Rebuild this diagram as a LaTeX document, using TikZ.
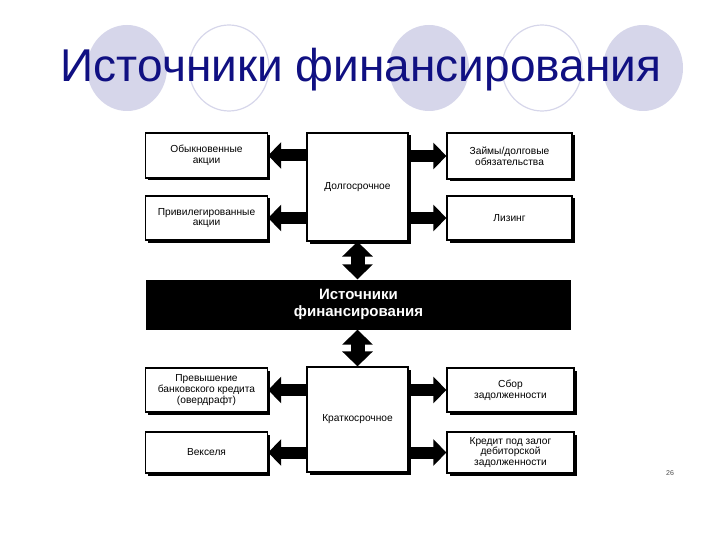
\documentclass[tikz,border=0pt]{standalone}
\usepackage{fontspec}
\setmainfont{Liberation Sans}
\usetikzlibrary{arrows.meta,shadows}
\definecolor{circ}{RGB}{214,214,234}
\definecolor{ttl}{RGB}{16,16,130}
\begin{document}
\begin{tikzpicture}[x=1pt,y=1pt,
  box/.style={draw=black,line width=1.3pt,fill=white,align=center,font=\fontsize{10.2}{10.8}\selectfont,inner sep=1pt,
    general shadow={fill=black,shadow xshift=2.5pt,shadow yshift=-2.5pt}},
  blk/.style={line width=12pt,-{Triangle[width=26pt,length=13pt]}},
  dblk/.style={line width=14pt,{Triangle[width=30pt,length=15pt]}-{Triangle[width=30pt,length=15pt]}}]
\useasboundingbox (0,0) rectangle (720,-540);
\fill[circ] (127,-68) ellipse (40 and 43);
\draw[circ,line width=1.2pt] (229,-68) ellipse (40 and 43);
\fill[circ] (429,-68) ellipse (40 and 43);
\draw[circ,line width=1.2pt] (542,-68) ellipse (40 and 43);
\fill[circ] (643,-68) ellipse (40 and 43);
\node[text=ttl,font=\fontsize{46}{50}\selectfont] (title) at (361,-70) {Источники финансирования};
% center boxes
\node[box,minimum width=101pt,minimum height=108pt] (long) at (357.5,-187) {Долгосрочное};
\node[box,minimum width=101pt,minimum height=105pt] (short) at (357.5,-419.5) {Краткосрочное};
% top boxes
\node[box,minimum width=122pt,minimum height=45pt] (ob) at (206.5,-155.5) {Обыкновенные\\акции};
\node[box,minimum width=122pt,minimum height=44pt] (pr) at (206.5,-218) {Привилегированные\\акции};
\node[box,minimum width=125pt,minimum height=46pt] (zd) at (509.5,-156) {Займы/долговые\\обязательства};
\node[box,minimum width=125pt,minimum height=44pt] (lz) at (509.5,-218) {Лизинг};
% bottom boxes
\node[box,minimum width=122pt,minimum height=44pt] (pb) at (206.5,-390) {Превышение\\банковского кредита\\(овердрафт)};
\node[box,minimum width=122pt,minimum height=41pt] (vk) at (206.5,-452.5) {Векселя};
\node[box,minimum width=127pt,minimum height=44pt] (sb) at (510.5,-390) {Сбор\\задолженности};
\node[box,minimum width=127pt,minimum height=41pt] (kr) at (510.5,-452.5) {Кредит под залог\\дебиторской\\задолженности};
% bar
\node[fill=black,text=white,minimum width=425pt,minimum height=50pt,align=center,
  font=\fontsize{15}{17}\selectfont\bfseries] (bar) at (358.5,-304.5) {Источники\\финансирования};
% arrows
\draw[blk] (long.west|-ob) -- (ob.east);
\draw[blk] (long.west|-pr) -- (pr.east);
\draw[blk] (long.east|-zd) -- (zd.west);
\draw[blk] (long.east|-lz) -- (lz.west);
\draw[blk] (short.west|-pb) -- (pb.east);
\draw[blk] (short.west|-vk) -- (vk.east);
\draw[blk] (short.east|-sb) -- (sb.west);
\draw[blk] (short.east|-kr) -- (kr.west);
\draw[dblk] (long.south) -- (long.south|-bar.north);
\draw[dblk] (bar.south-|short.north) -- (short.north);
\node[font=\fontsize{7}{8}\selectfont,text=black!70] (pg) at (670,-473) {26};
\end{tikzpicture}
\end{document}
